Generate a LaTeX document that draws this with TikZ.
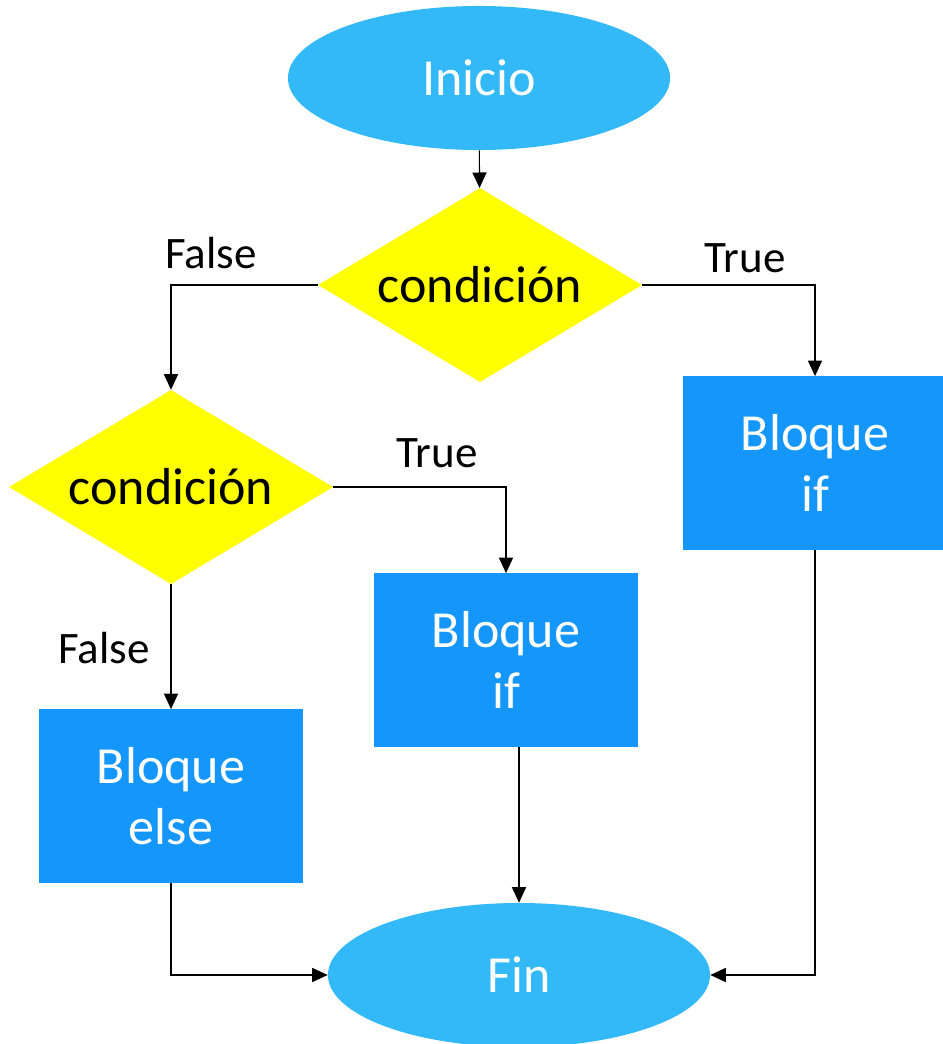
\documentclass[tikz,border=0pt]{standalone}
\usepackage{fontspec}
\setmainfont{Carlito}
\usetikzlibrary{shapes.geometric, arrows.meta, positioning}
\definecolor{termblue}{RGB}{51,185,248}
\definecolor{blockblue}{RGB}{20,150,250}
\definecolor{condyellow}{RGB}{255,255,0}

\begin{document}
\begin{tikzpicture}[
    x=0.025cm, y=-0.025cm,
    terminal/.style={ellipse, fill=termblue, text=white, inner sep=0pt,
        minimum width=9.55cm, minimum height=3.6cm, font=\fontsize{37}{43}\selectfont},
    decision/.style={diamond, fill=condyellow, shape aspect=1.67, inner sep=0pt,
        minimum width=8.1cm, minimum height=4.85cm, font=\fontsize{37}{43}\selectfont},
    block/.style={rectangle, fill=blockblue, text=white, align=center,
        minimum width=6.6cm, minimum height=4.33cm, font=\fontsize{37}{43}\selectfont},
    answer/.style={font=\fontsize{32}{38}\selectfont},
    arrow/.style={line width=0.8pt, -{Triangle[length=11pt, width=10pt]}}
]
    \useasboundingbox (0,0) rectangle (942,1044);

    % Start and first condition
    \node[terminal] (start) at (479,78) {Inicio};
    \node[decision] (cond1) at (480,285) {condición};

    % Second level
    \node[decision] (cond2) at (171,487) {condición};
    \node[block] (ifright) at (815,463) {Bloque\\if};

    % Third level
    \node[block] (ifmid) at (506,660) {Bloque\\if};
    \node[block] (elseblk) at (171,796) {Bloque\\else};

    % End
    \node[terminal] (fin) at (519,975) {Fin};

    % Branch labels
    \node[answer] (false1) at (211,253) {False};
    \node[answer] (true1) at (745,258) {True};
    \node[answer] (true2) at (437,453) {True};
    \node[answer] (false2) at (104,648) {False};

    % Arrows
    \draw[arrow] (start) -- (cond1);
    \draw[arrow] (cond1.west) -| (cond2.north);
    \draw[arrow] (cond1.east) -| (ifright.north);
    \draw[arrow] (cond2.east) -| (ifmid.north);
    \draw[arrow] (cond2.south) -- (elseblk.north);
    \draw[arrow] (elseblk.south) |- (fin.west);
    \draw[arrow] (ifmid.south -| fin.north) -- (fin.north);
    \draw[arrow] (ifright.south) |- (fin.east);
\end{tikzpicture}
\end{document}
